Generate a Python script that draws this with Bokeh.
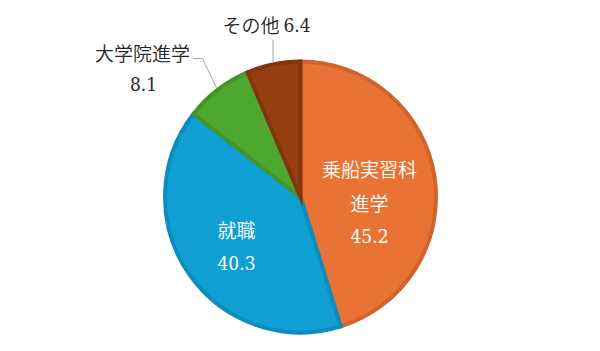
import math
from bokeh.plotting import figure
from bokeh.models import Range1d
from bokeh.core.properties import value
from bokeh.embed import file_html
from bokeh.resources import INLINE

# data
categories = ["乗船実習科進学", "就職", "大学院進学", "その他"]
shares = [45.2, 40.3, 8.1, 6.4]
fill_colors = ["#E87334", "#0F9FD3", "#4EA72E", "#973F10"]
edge_colors = ["#CF652C", "#0D8DBD", "#459629", "#83360D"]

W, H = 600, 351
cx, cy, R = 300, H - 196.5, 137.5

p = figure(width=W, height=H, output_backend="svg", toolbar_location=None,
           x_range=Range1d(0, W), y_range=Range1d(0, H), min_border=0)
p.axis.visible = False
p.grid.visible = False
p.outline_line_color = None
p.background_fill_color = "white"

total = sum(shares)
starts, ends, mids = [], [], []
acc = 0.0
for s in shares:
    a0 = math.pi / 2 - 2 * math.pi * acc / total
    acc += s
    a1 = math.pi / 2 - 2 * math.pi * acc / total
    starts.append(a0)
    ends.append(a1)
    mids.append((a0 + a1) / 2)

p.wedge(x=[cx] * 4, y=[cy] * 4, radius=R - 2, start_angle=starts, end_angle=ends,
        direction="clock", fill_color=fill_colors, line_color=edge_colors,
        line_width=4, line_join="miter")

JP = value("Noto Sans CJK JP DemiLight")
NUM = value("DejaVu Serif Condensed")

def txt(x, y, s, color, font, size, align="center"):
    p.text(x=[x], y=[H - y], text=[s], text_color=color, text_font=font,
           text_font_size=size, text_align=align, text_baseline="middle")

# inside labels
txt(369, 168, "乗船実習科", "white", JP, "19px")
txt(369, 202, "進学", "white", JP, "19px")
txt(369, 235, f"{shares[0]}", "white", NUM, "19px")
txt(236, 229, categories[1], "white", JP, "19px")
txt(236, 262, f"{shares[1]}", "white", NUM, "19px")

# outside labels
txt(142, 52, categories[2], "#262626", JP, "19px")
txt(143, 83, f"{shares[2]}", "#262626", NUM, "19px")
txt(279, 24, categories[3], "#262626", JP, "19px", "right")
txt(283, 24, f"{shares[3]}", "#262626", NUM, "19px", "left")

# leader lines
gx, gy = cx + R * math.cos(mids[2]), cy + R * math.sin(mids[2])
p.line(x=[gx, 202, 193], y=[gy, H - 58, H - 58], line_color="#A6A6A6", line_width=1)
bx, by = cx + R * math.cos(mids[3]), cy + R * math.sin(mids[3])
p.line(x=[bx, bx], y=[by, H - 39], line_color="#A6A6A6", line_width=1)

open("out.html", "w").write(file_html(p, INLINE))
